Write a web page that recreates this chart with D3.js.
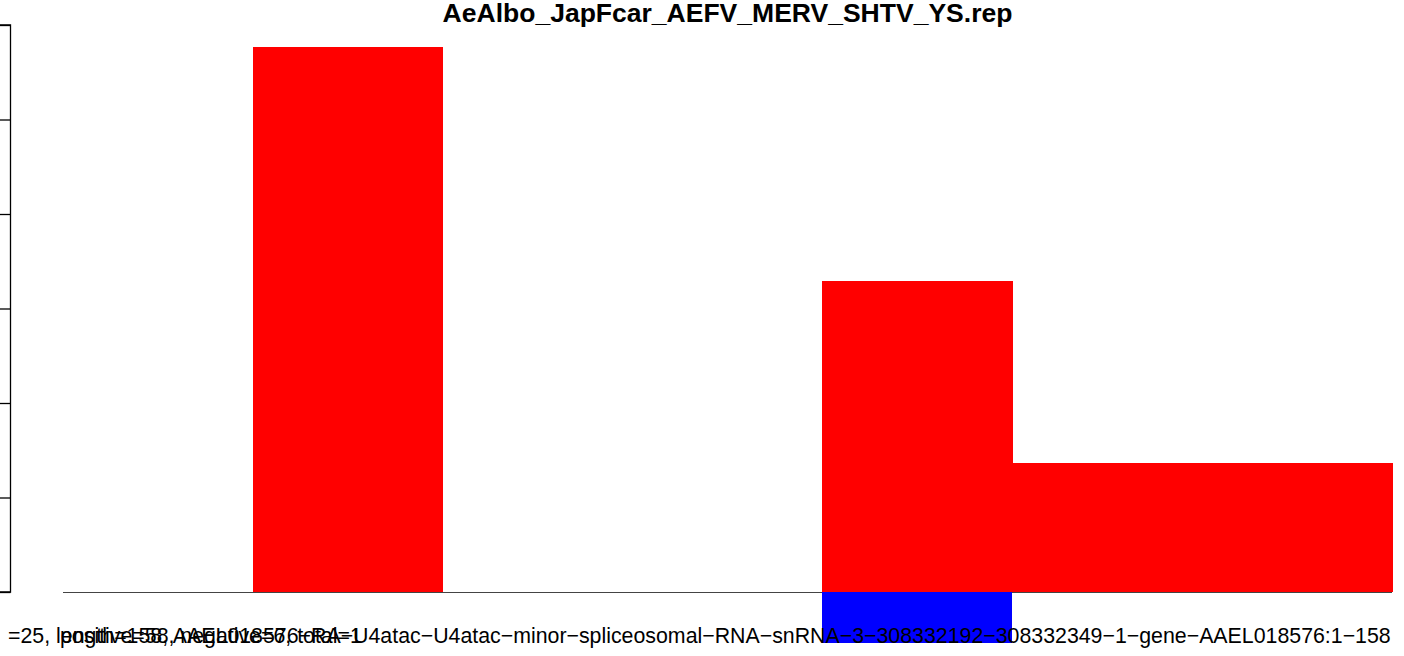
<!DOCTYPE html>
<html>
<head>
<meta charset="utf-8">
<script src="https://cdn.jsdelivr.net/npm/d3@7"></script>
<style>
  html, body { margin: 0; padding: 0; background: #fff; }
  svg { display: block; }
  text { font-family: "Liberation Sans", Arial, Helvetica, sans-serif; }
</style>
</head>
<body>
<svg id="chart" width="1404" height="656"></svg>
<script>
// ---- data ----
const titleText = "AeAlbo_JapFcar_AEFV_MERV_SHTV_YS.rep";
const bins = ["1", "2", "3", "4", "5", "6", "7"];
const positiveValues = [0, 57.7, 0, 0, 32.9, 13.7, 13.7];
const negativeValues = [0, 0, 0, 0, -5.4, 0, 0];
const yTicks = [0, 10, 20, 30, 40, 50, 60];
const xLabel = "=25, length=158, AAEL018576\u2212RA\u2212U4atac\u2212U4atac\u2212minor\u2212spliceosomal\u2212RNA\u2212snRNA\u22123\u2212308332192\u2212308332349\u22121\u2212gene\u2212AAEL018576:1\u2212158";
const subLabel = "positive=58, negative=6, total=1";

// ---- layout ----
const svg = d3.select("#chart");
const plot = { left: 10, right: 1445, top: 25, bottom: 592 };
const barLeft = 63, barRight = 1392;

const x = d3.scaleBand().domain(bins).range([barLeft, barRight]).padding(0);
const y = d3.scaleLinear().domain([0, 60]).range([592, 25]);

// baseline at zero
svg.append("line")
  .attr("x1", x(bins[0])).attr("x2", x(bins[bins.length - 1]) + x.bandwidth())
  .attr("y1", y(0) + 0.5).attr("y2", y(0) + 0.5)
  .attr("stroke", "#444").attr("stroke-width", 1);

// positive bars
svg.append("g").attr("shape-rendering", "crispEdges")
  .selectAll("rect").data(bins.map((b, i) => ({ b, v: positiveValues[i] })).filter(d => d.v > 0))
  .join("rect")
  .attr("x", d => x(d.b)).attr("width", x.bandwidth() + 0.5)
  .attr("y", d => y(d.v)).attr("height", d => y(0) - y(d.v))
  .attr("fill", "#ff0000");

// negative bars
svg.append("g").attr("shape-rendering", "crispEdges")
  .selectAll("rect").data(bins.map((b, i) => ({ b, v: negativeValues[i] })).filter(d => d.v < 0))
  .join("rect")
  .attr("x", d => x(d.b)).attr("width", x.bandwidth())
  .attr("y", y(0)).attr("height", d => y(d.v) - y(0))
  .attr("fill", "#0000ff");

// y axis (its tick labels sit left of the visible area, as in the reference)
const yAxis = d3.axisLeft(y).tickValues(yTicks).tickSize(11).tickPadding(6);
const ag = svg.append("g").attr("transform", `translate(${plot.left + 0.5},0)`).call(yAxis);
ag.select(".domain").attr("stroke", "#000").attr("stroke-width", 1.3).attr("d", `M-11,${y(60)}H0V${y(0)}H-11`);
ag.selectAll(".tick line").attr("stroke", "#000").attr("stroke-width", 1.3);
ag.selectAll(".tick text").attr("font-size", 20).attr("fill", "#000");

// title (fit to measured width)
const title = svg.append("text")
  .attr("x", (plot.left + plot.right) / 2).attr("y", 22)
  .attr("text-anchor", "middle").attr("font-weight", "bold")
  .attr("font-size", 24).attr("fill", "#000").text(titleText);
const tw = title.node().getComputedTextLength();
title.attr("font-size", 24 * 570 / tw);

// x labels (overlapping, as in the reference)
const xl = svg.append("text").attr("x", 8).attr("y", 643)
  .attr("font-size", 20).attr("fill", "#000").text(xLabel);
const xw = xl.node().getComputedTextLength();
const fs = 20 * 1384 / xw;
xl.attr("font-size", fs);

svg.append("text").attr("x", 60).attr("y", 643)
  .attr("font-size", fs).attr("fill", "#000").text(subLabel);
</script>
</body>
</html>
